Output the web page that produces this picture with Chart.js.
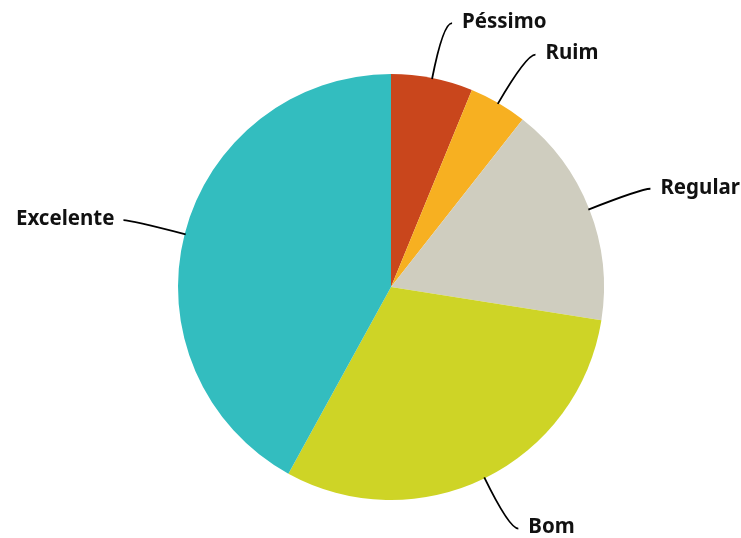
<!DOCTYPE html>
<html>
<head>
<meta charset="utf-8">
<script src="https://cdn.jsdelivr.net/npm/chart.js@4/dist/chart.umd.min.js"></script>
<style>
html,body{margin:0;padding:0;background:#fff;}
#wrap{width:741px;height:538px;}
</style>
</head>
<body>
<div id="wrap"><canvas id="c" width="741" height="538"></canvas></div>
<script>
const categories = ["Péssimo", "Ruim", "Regular", "Bom", "Excelente"];
const values = [6.2, 4.4, 16.9, 30.5, 42.0];
const colors = ["#C9461C", "#F7B021", "#CFCDBF", "#CED426", "#33BDBF"];

const labelPlugin = {
  id: 'outLabels',
  afterDatasetsDraw(chart) {
    const ctx = chart.ctx;
    const meta = chart.getDatasetMeta(0);
    ctx.save();
    ctx.font = '700 20.5px "Noto Sans", sans-serif';
    ctx.textBaseline = 'middle';
    ctx.strokeStyle = '#000';
    ctx.lineWidth = 1.8;
    ctx.fillStyle = '#111';
    meta.data.forEach((arc, i) => {
      const p = arc.getProps(['x','y','startAngle','endAngle','outerRadius'], true);
      const mid = (p.startAngle + p.endAngle) / 2;
      const cx = p.x, cy = p.y, r = p.outerRadius;
      const x0 = cx + Math.cos(mid) * (r - 1), y0 = cy + Math.sin(mid) * (r - 1);
      const x1 = cx + Math.cos(mid) * (r + 56), y1 = cy + Math.sin(mid) * (r + 56);
      const right = Math.cos(mid) >= 0;
      const x2 = x1 + (right ? 9 : -7), y2 = y1;
      ctx.beginPath();
      ctx.moveTo(x0, y0);
      ctx.quadraticCurveTo(x1, y1, x2, y2);
      ctx.stroke();
      ctx.textAlign = right ? 'left' : 'right';
      ctx.fillText(categories[i], x2 + (right ? 10 : -9), y2 - 1);
    });
    ctx.restore();
  }
};

new Chart(document.getElementById('c'), {
  type: 'pie',
  data: {
    labels: categories,
    datasets: [{ data: values, backgroundColor: colors, borderWidth: 0 }]
  },
  options: {
    responsive: false,
    animation: false,
    layout: { padding: { left: 178, right: 137, top: 74, bottom: 38 } },
    plugins: { legend: { display: false }, tooltip: { enabled: false } }
  },
  plugins: [labelPlugin]
});
</script>
</body>
</html>
